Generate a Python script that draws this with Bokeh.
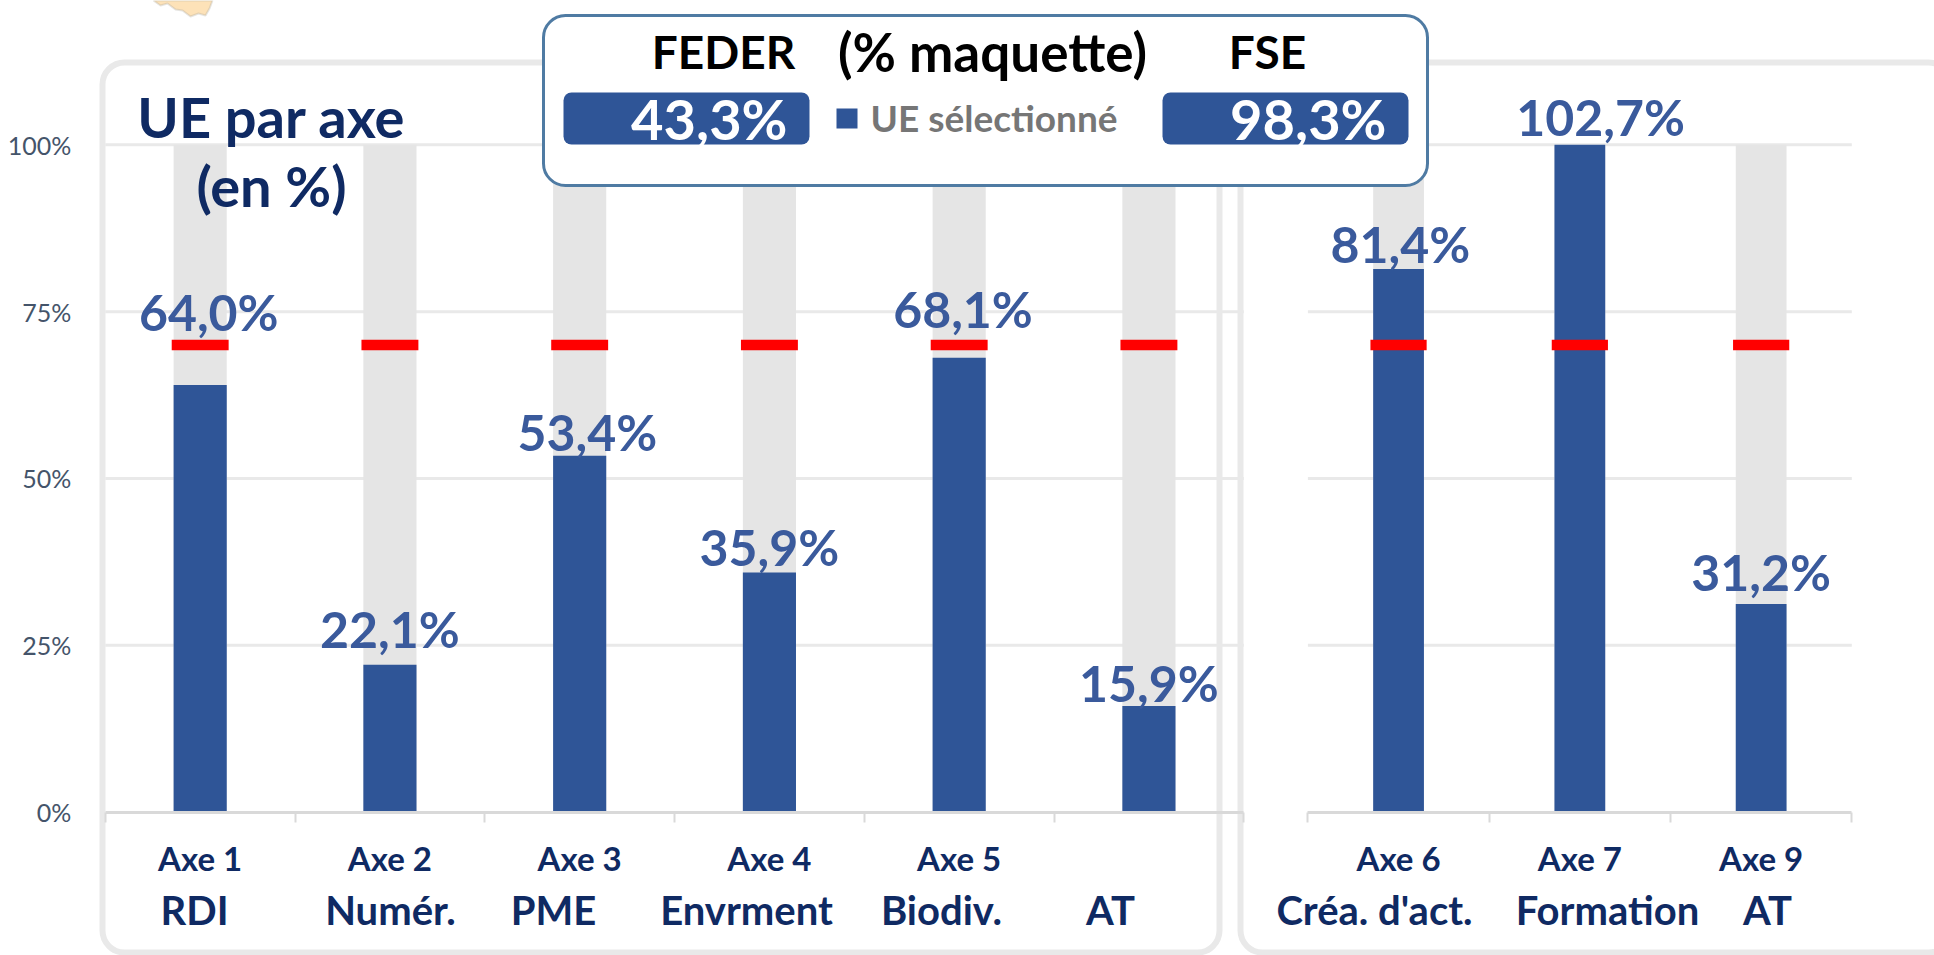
from bokeh.plotting import figure
from bokeh.embed import file_html
from bokeh.resources import INLINE
from bokeh.models import (Range1d, LinearAxis, FixedTicker, BoxAnnotation, Label,
                          PolyAnnotation)
from bokeh.core.properties import value

# ---- data ----
left_axes = ["Axe 1", "Axe 2", "Axe 3", "Axe 4", "Axe 5", ""]
left_names = ["RDI", "Numér.", "PME", "Envrment", "Biodiv.", "AT"]
left_values = [64.0, 22.1, 53.4, 35.9, 68.1, 15.9]
right_axes = ["Axe 6", "Axe 7", "Axe 9"]
right_names = ["Créa. d'act.", "Formation", "AT"]
right_values = [81.4, 102.7, 31.2]
target = 70
feder_total = "43,3%"
fse_total = "98,3%"
y_ticks = [0, 25, 50, 75, 100]

# ---- layout (page pixels) ----
W, H = 1934, 955
PX0, PX1, PY0, PY1 = 0, W, H, 0
Y0, Y100 = 811.6, 144.3
L0, LSTEP = 104.8, 189.75
R0, RSTEP = 1307.4, 181.3
pct = lambda py: (Y0 - py) / (Y0 - Y100) * 100

BLUE = "#2f5597"
NAVY = "#0f2a63"
GREY = "#e5e5e5"
PANEL = "#e9e9e9"
FONT = "Lato"

p = figure(width=W, height=H, output_backend="svg", toolbar_location=None,
           x_range=Range1d(PX0, PX1), y_range=Range1d(pct(PY0), pct(PY1)),
           min_border=0, min_border_left=0, min_border_right=0, min_border_top=0,
           min_border_bottom=0, x_axis_type=None, y_axis_type=None, outline_line_color=None)
p.grid.visible = False
p.extra_x_ranges["L"] = Range1d((PX0 - L0) / LSTEP, (PX1 - L0) / LSTEP)
p.extra_x_ranges["R"] = Range1d((PX0 - R0) / RSTEP, (PX1 - R0) / RSTEP)
p.extra_y_ranges["px"] = Range1d(PY0, PY1)


def box(l, r, t, b, fill=None, line=None, lw=0, radius=0, level="annotation", alpha=1):
    a = BoxAnnotation(left=l, right=r, top=t, bottom=b, x_range_name="default",
                      y_range_name="px", fill_color=fill, fill_alpha=alpha if fill else 0,
                      line_color=line, line_width=lw, line_alpha=1 if line else 0,
                      border_radius=radius, level=level, editable=False)
    p.add_layout(a)


def label(x, py, s, size, color, style="bold", align="center", range_name="default"):
    p.add_layout(Label(x=x, y=py, text=s, x_range_name=range_name, y_range_name="px",
                       text_font=FONT, text_font_size=f"{size}px", text_color=color,
                       text_font_style=style, text_align=align, text_baseline="middle"))


# scrap of map at the top edge
p.add_layout(PolyAnnotation(
    xs=[153, 160, 167, 175, 182, 190, 198, 205, 209, 212],
    ys=[pct(v) for v in [0, 5, 3, 9, 10, 16, 13, 15, 8, 0]],
    fill_color="#fde2b8", fill_alpha=1, line_color="#a9a49a", line_width=2, editable=False))

# panels
box(102, 1219, 62, 952, line=PANEL, lw=6, radius=22, level="underlay")
box(1240, 1950, 62, 952, line=PANEL, lw=6, radius=22, level="underlay")

# gridlines, one run per panel
for name, n in (("L", len(left_values)), ("R", len(right_values))):
    p.segment(x0=[0] * len(y_ticks[1:]), x1=[n] * len(y_ticks[1:]), y0=y_ticks[1:], y1=y_ticks[1:],
              x_range_name=name, line_color=PANEL, line_width=3, level="underlay")

# background bars, value bars, target marks
for name, vals, bw, tw in (("L", left_values, 0.28, 0.3), ("R", right_values, 0.28, 0.31)):
    xs = [i + 0.5 for i in range(len(vals))]
    p.vbar(x=xs, top=[100] * len(vals), bottom=0, width=bw, x_range_name=name,
           fill_color=GREY, line_color=None)
    p.vbar(x=xs, top=[min(v, 100) for v in vals], bottom=0, width=bw, x_range_name=name,
           fill_color=BLUE, line_color=None)
    p.vbar(x=xs, top=[target + 0.8] * len(vals), bottom=target - 0.8, width=tw, x_range_name=name,
           fill_color="#ff0000", line_color=None)

# value labels: placement
label_pos = {"L": [75.0, 27.4, 57.0, 39.7, 75.4, 19.4], "R": [85.2, 104.2, 36.0]}
label_dx = {"L": [0.045, 0, 0.04, 0, 0.02, 0], "R": [0.01, 0.115, 0]}
for name, vals in (("L", left_values), ("R", right_values)):
    txt = [f"{v:.1f}%".replace(".", ",") for v in vals]
    p.text(x=[i + 0.5 + d for i, d in enumerate(label_dx[name])], y=label_pos[name], text=txt,
           x_range_name=name, text_font=value(FONT), text_font_size="50px", text_font_style="bold",
           text_color="#3a5a9c", text_align="center", text_baseline="middle")

# axes
ya = LinearAxis(fixed_location=L0, ticker=FixedTicker(ticks=y_ticks),
                major_label_overrides={t: f"{t}%" for t in y_ticks},
                major_tick_line_color=None, minor_tick_line_color=None, axis_line_color=None,
                major_label_text_font=FONT, major_label_text_font_size="25px",
                major_label_text_color="#44546a", major_label_standoff=28)
p.add_layout(ya, "left")
for name, n in (("L", len(left_values)), ("R", len(right_values))):
    xa = LinearAxis(x_range_name=name, fixed_location=0, ticker=FixedTicker(ticks=list(range(n + 1))),
                    bounds=(0, n), major_label_text_font_size="0px", minor_tick_line_color=None,
                    axis_line_color="#d9d9d9", axis_line_width=3, major_tick_line_color="#d9d9d9",
                    major_tick_line_width=2, major_tick_in=0, major_tick_out=10,
                    major_label_overrides={i: "" for i in range(n + 1)})
    p.add_layout(xa, "below")

# category labels
left_name_px = [194, 390, 553, 746, 941, 1110]
right_name_px = [1374, 1607, 1767]
for name, axes_ in (("L", left_axes), ("R", right_axes)):
    for i, s in enumerate(axes_):
        if s:
            label(i + 0.5, 857, s, 33, NAVY, range_name=name)
for s, x in zip(left_names + right_names, left_name_px + right_name_px):
    label(x, 909, s, 40, NAVY)

# title
label(271, 116, "UE par axe", 56, NAVY)
label(271, 185, "(en %)", 56, NAVY)

# header box
box(543, 1427, 15, 185, fill="white", line="#4f7ba3", lw=3, radius=22)
label(723, 51, "FEDER", 46, "black")
label(992, 51, "(% maquette)", 53, "black")
label(1267, 51, "FSE", 46, "black")
box(563, 809, 92, 144, fill=BLUE, radius=8)
box(1162, 1408, 92, 144, fill=BLUE, radius=8)
label(787, 118, feder_total, 56, "white", align="right")
label(1386, 118, fse_total, 56, "white", align="right")
box(836, 857, 108, 128, fill=BLUE)
label(870, 117, "UE sélectionné", 37, "#767676", align="left")

open("out.html", "w").write(file_html(p, INLINE))
